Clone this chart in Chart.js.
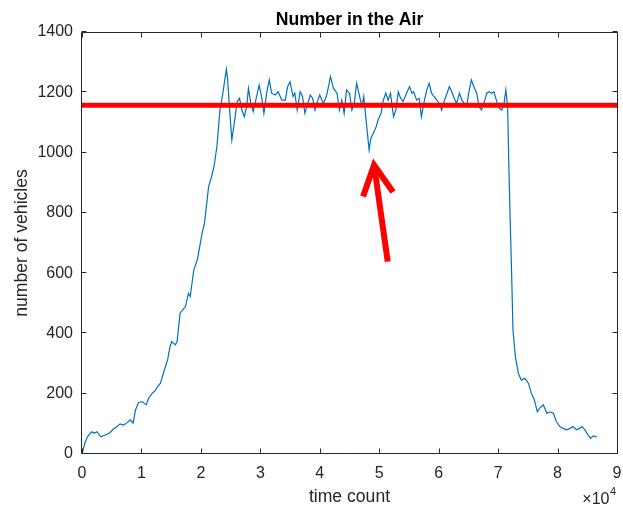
<!DOCTYPE html>
<html>
<head>
<meta charset="utf-8">
<script src="https://cdn.jsdelivr.net/npm/chart.js@4/dist/chart.umd.min.js"></script>
<style>
  html, body { margin: 0; padding: 0; background: #ffffff; }
  canvas { display: block; }
</style>
</head>
<body>
<canvas id="c" width="623" height="509"></canvas>
<script>
// ---- data ----
const timeCount = [
  0, 550, 1100, 1680, 2070, 2500, 3200, 3900, 4600, 5300, 5900, 6400, 7000, 7600, 8100, 8600,
  9000, 9500, 10100, 10800, 11200, 11800, 12300, 12700, 13200, 13600, 14000, 14400, 14800, 15100,
  15700, 16000, 16500, 17400, 17900, 18200, 18800, 19400, 20200, 20600, 21300, 21800, 22200,
  22700, 23200, 23700, 24100, 24300, 24500, 24800, 25200, 25600, 26100, 26500, 26900, 27300,
  27700, 28000, 28400, 28800, 29300, 29800, 30200, 30600, 31100, 31500, 31900, 32500, 33000,
  33600, 34200, 34600, 35000, 35500, 35800, 36200, 36700, 37100, 37500, 37900, 38400, 38800,
  39200, 39600, 40000, 40600, 41100, 41400, 41800, 42300, 42900, 43300, 43700, 44100, 44500,
  45000, 45400, 45800, 46200, 46700, 47100, 47400, 47900, 48300, 48600, 49000, 49500, 49800,
  50300, 50700, 51100, 51500, 51900, 52400, 52800, 53200, 53600, 54000, 54600, 55100, 55500,
  55800, 56300, 56700, 57100, 57500, 58000, 58400, 58800, 59200, 59700, 60100, 60500, 60900,
  61300, 61800, 62200, 62600, 63000, 63500, 63900, 64300, 64700, 65100, 65500, 65900, 66400,
  66800, 67200, 67600, 68100, 68500, 68900, 69300, 69700, 70200, 70600, 71000, 71300, 71600,
  71800, 72000, 72300, 72500, 72900, 73400, 73900, 74500, 75100, 75600, 76100, 76600, 77000,
  77600, 78200, 78700, 79300, 79800, 80400, 80900, 81500, 82100, 82600, 83200, 83700, 84100,
  84600, 85100, 85600, 86000, 86600
];
const vehicles = [
  0, 41, 63, 74, 69, 74, 57, 63, 69, 83, 91, 100, 96, 104, 113, 102,
  146, 170, 174, 163, 185, 201, 210, 223, 235, 262, 288, 312, 356, 373,
  362, 373, 467, 489, 533, 522, 610, 644, 732, 765, 887, 920, 953,
  1020, 1141, 1197, 1252, 1276, 1241, 1152, 1042, 1095, 1169, 1180, 1141, 1119,
  1152, 1213, 1163, 1136, 1180, 1224, 1186, 1130, 1202, 1241, 1197, 1191, 1202,
  1174, 1174, 1219, 1235, 1186, 1197, 1141, 1202, 1186, 1130, 1158, 1191, 1180,
  1141, 1169, 1191, 1163, 1186, 1213, 1252, 1213, 1197, 1141, 1174, 1130, 1208,
  1197, 1141, 1163, 1230, 1186, 1152, 1186, 1086, 1009, 1047, 1064, 1086, 1108,
  1130, 1174, 1197, 1174, 1197, 1119, 1141, 1202, 1180, 1169, 1197, 1219, 1197,
  1202, 1174, 1180, 1119, 1163, 1208, 1230, 1197, 1186, 1174, 1163, 1141, 1169,
  1191, 1219, 1202, 1180, 1163, 1197, 1174, 1163, 1152, 1202, 1241, 1219, 1197,
  1152, 1141, 1163, 1197, 1202, 1197, 1202, 1174, 1147, 1141, 1163, 1208, 1152,
  964, 799, 577, 411, 323, 268, 245, 251, 235, 201, 179, 140, 152,
  163, 135, 140, 135, 107, 91, 85, 80, 85, 91, 80, 85, 91,
  80, 63, 52, 60, 57
];
// red reference line (drawn on top of the plot)
const refLineX = [0, 90000];
const refLineY = [1157, 1157];
// red arrow annotation: shaft (tail -> tip) and head (wing -> tip -> wing)
const arrowShaftX = [51430, 49130];
const arrowShaftY = [638, 959];
const arrowHeadX = [47280, 49130, 52320];
const arrowHeadY = [854, 959, 869];
// axis ticks
const xTicks = [0, 10000, 20000, 30000, 40000, 50000, 60000, 70000, 80000, 90000];
const yTicks = [0, 200, 400, 600, 800, 1000, 1200, 1400];

const titleText = 'Number in the Air';
const xLabel = 'time count';
const yLabel = 'number of vehicles';

const zip = (xs, ys) => xs.map((x, i) => ({ x: x, y: ys[i] }));
const AX = '#262626';
const FONT = '"Liberation Sans", Arial, Helvetica, sans-serif';

const framePlugin = {
  id: 'frame',
  afterDatasetsDraw(chart) {
    const { ctx, chartArea: a, scales: { x, y } } = chart;
    ctx.save();
    ctx.strokeStyle = AX;
    ctx.lineWidth = 1;
    const L = Math.round(a.left) - 0.5, R = Math.round(a.right) + 0.5;
    const T = Math.round(a.top) + 0.5, B = Math.round(a.bottom) - 0.5;
    ctx.beginPath();
    ctx.rect(L, T, R - L, B - T);
    const tl = 5;
    xTicks.forEach(v => {
      const px = Math.round(x.getPixelForValue(v)) + 0.5;
      ctx.moveTo(px, B); ctx.lineTo(px, B - tl);
      ctx.moveTo(px, T); ctx.lineTo(px, T + tl);
    });
    yTicks.forEach(v => {
      const py = Math.round(y.getPixelForValue(v)) - 0.5;
      ctx.moveTo(L, py); ctx.lineTo(L + tl, py);
      ctx.moveTo(R, py); ctx.lineTo(R - tl, py);
    });
    ctx.stroke();
    ctx.restore();
  },
  afterDraw(chart) {
    const { ctx, chartArea: a } = chart;
    ctx.save();
    ctx.fillStyle = '#000000';
    ctx.font = 'bold 17.6px ' + FONT;
    ctx.textAlign = 'center';
    ctx.textBaseline = 'alphabetic';
    ctx.fillText(titleText, (a.left + a.right) / 2, 24.5);
    // exponent label
    ctx.fillStyle = AX;
    ctx.font = '16px ' + FONT;
    ctx.textAlign = 'right';
    ctx.fillText('\u00D710', 609.5, 504);
    ctx.font = '11px ' + FONT;
    ctx.textAlign = 'left';
    ctx.fillText('4', 610, 495);
    ctx.restore();
  }
};

new Chart(document.getElementById('c'), {
  type: 'scatter',
  data: {
    datasets: [
      {
        data: zip(arrowShaftX, arrowShaftY),
        showLine: true, borderColor: '#ff0000', borderWidth: 6,
        pointRadius: 0, borderCapStyle: 'butt', order: 0
      },
      {
        data: zip(arrowHeadX, arrowHeadY),
        showLine: true, borderColor: '#ff0000', borderWidth: 6,
        pointRadius: 0, borderJoinStyle: 'miter', borderCapStyle: 'butt', order: 0
      },
      {
        data: zip(refLineX, refLineY),
        showLine: true, borderColor: '#ff0000', borderWidth: 5,
        pointRadius: 0, order: 1
      },
      {
        data: zip(timeCount, vehicles),
        showLine: true, borderColor: '#0072BD', borderWidth: 1.2,
        pointRadius: 0, tension: 0, order: 2
      }
    ]
  },
  options: {
    responsive: false,
    animation: false,
    devicePixelRatio: 1,
    layout: { padding: { top: 32, right: 6, bottom: 0, left: 0 } },
    plugins: { legend: { display: false }, tooltip: { enabled: false }, title: { display: false } },
    scales: {
      x: {
        type: 'linear', min: 0, max: 90000,
        afterFit: s => { s.height = 55; s.paddingLeft = 0; s.paddingRight = 0; },
        afterBuildTicks: s => { s.ticks = xTicks.map(v => ({ value: v })); },
        grid: { display: false, drawTicks: false },
        border: { display: false },
        ticks: {
          padding: 10, color: AX, maxRotation: 0, autoSkip: false,
          font: { family: FONT, size: 16 },
          callback: v => String(v / 10000)
        },
        title: {
          display: true, text: xLabel, color: AX,
          font: { family: FONT, size: 17.6 },
          padding: { top: 0, bottom: 1.4 }
        }
      },
      y: {
        type: 'linear', min: 0, max: 1400,
        afterFit: s => { s.width = 82; s.paddingTop = 0; s.paddingBottom = 0; },
        afterBuildTicks: s => { s.ticks = yTicks.map(v => ({ value: v })); },
        grid: { display: false, drawTicks: false },
        border: { display: false },
        ticks: {
          padding: 9, color: AX,
          font: { family: FONT, size: 16 },
          callback: v => String(v)
        },
        title: {
          display: true, text: yLabel, color: AX,
          font: { family: FONT, size: 17.6 },
          padding: { top: 11.4, bottom: 0 }
        }
      }
    }
  },
  plugins: [framePlugin]
});
</script>
</body>
</html>
